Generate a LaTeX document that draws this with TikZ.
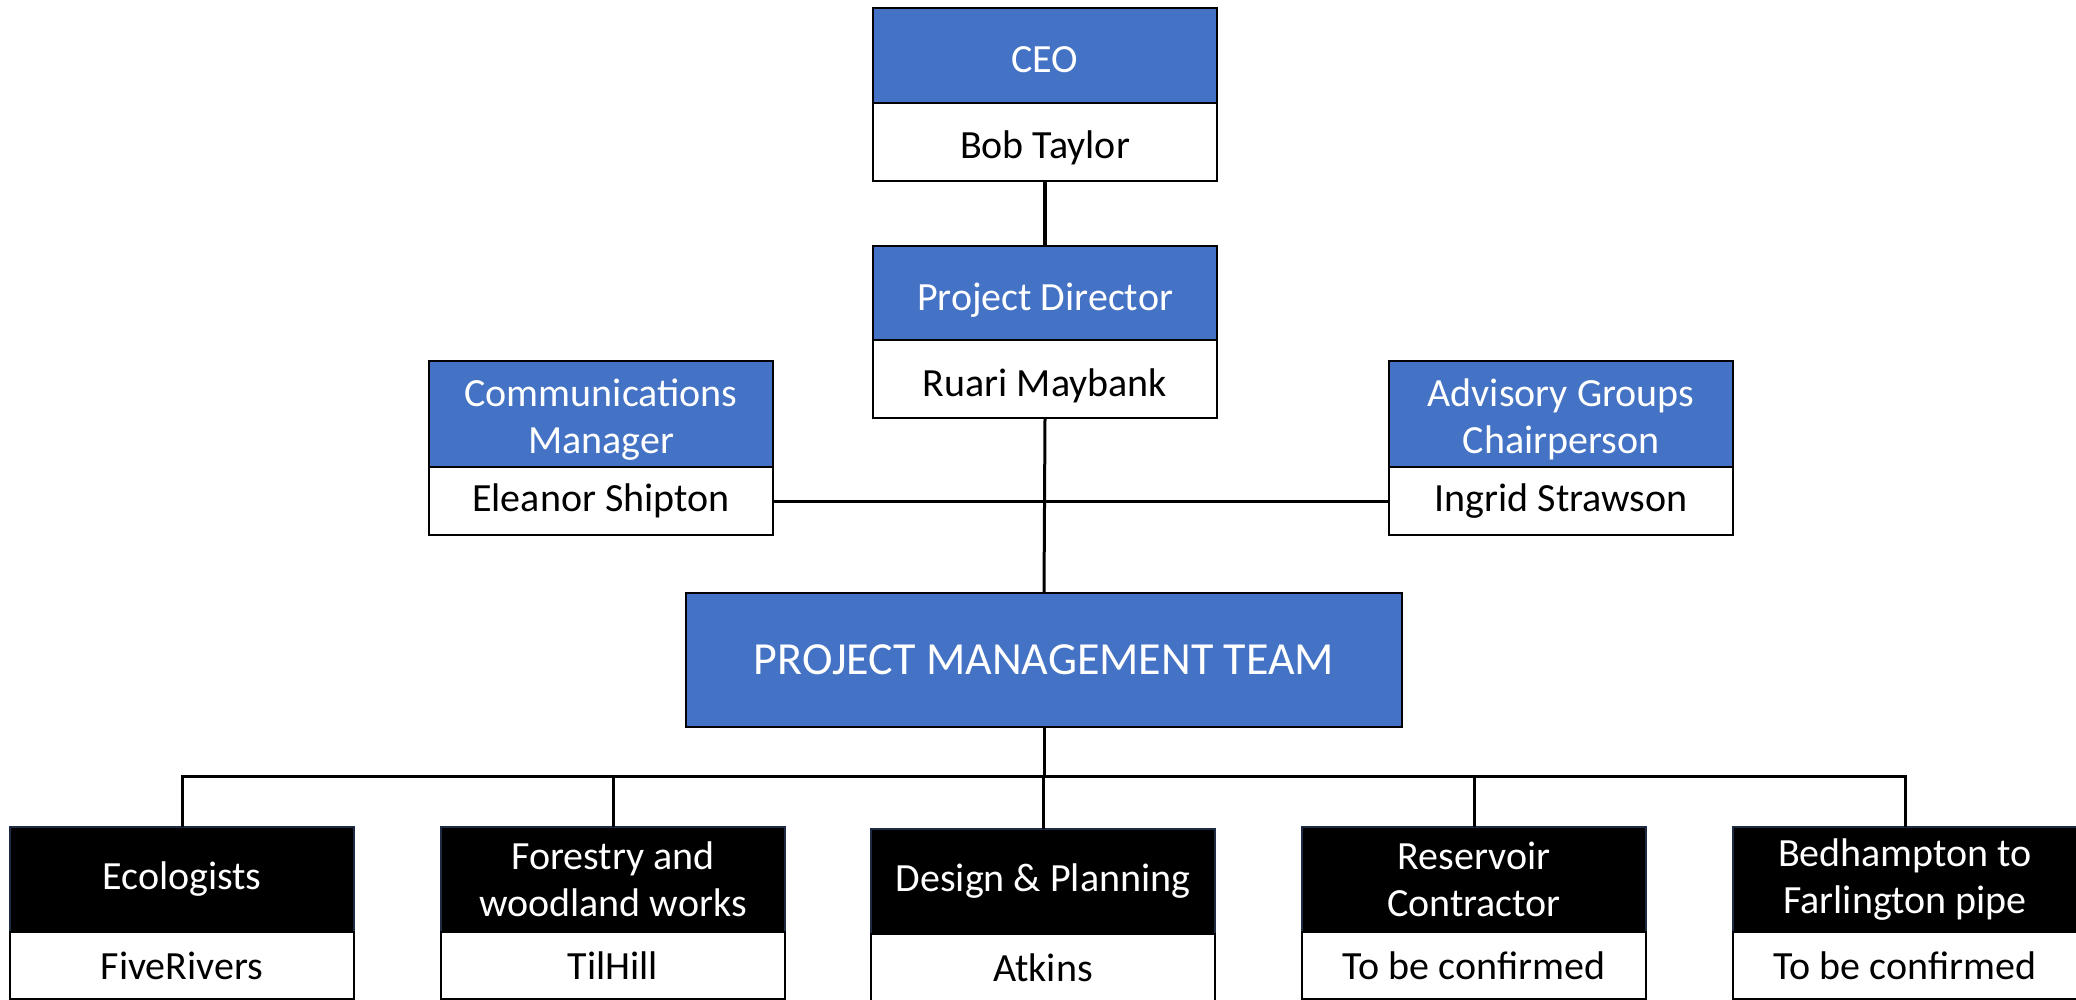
\documentclass[tikz,border=0pt]{standalone}
\usepackage{fontspec}
\setmainfont{Carlito}
\definecolor{hblue}{HTML}{4472C4}
\definecolor{hedge}{HTML}{1F2A44}
\begin{document}
\begin{tikzpicture}[x=1pt,y=-1pt,
  box/.style={draw=black, line width=2pt, inner sep=0pt, outer sep=0pt, anchor=north west, align=center, font=\fontsize{40}{47}\selectfont},
  bluebox/.style={box, fill=hblue, text=white},
  blackbox/.style={box, fill=black, text=white, draw=hedge},
  namebox/.style={box, fill=white, text=black},
  tlow/.style={text height=#1, text depth=0pt},
  conn/.style={line width=3pt}]
\useasboundingbox (0,0) rectangle (2076,1000);
\coordinate (bus) at (0,776);
% top column
\node[bluebox, tlow=34pt, minimum width=344pt, minimum height=95pt] (ceoH) at (873,8) {CEO};
\node[namebox, tlow=34pt, minimum width=344pt, minimum height=78pt] (ceoN) at (873,103) {Bob Taylor};
\node[bluebox, tlow=34pt, minimum width=344pt, minimum height=94pt] (pdH) at (873,246) {Project Director};
\node[namebox, tlow=34pt, minimum width=344pt, minimum height=78pt] (pdN) at (873,340) {Ruari Maybank};
% side boxes
\node[bluebox, tlow=78pt, minimum width=344pt, minimum height=106pt] (cmH) at (429,361) {Communications\\Manager};
\node[namebox, minimum width=344pt, minimum height=68pt] (cmN) at (429,467) {Eleanor Shipton};
\node[bluebox, tlow=78pt, minimum width=344pt, minimum height=106pt] (agH) at (1389,361) {Advisory Groups\\Chairperson};
\node[namebox, minimum width=344pt, minimum height=68pt] (agN) at (1389,467) {Ingrid Strawson};
% PMT
\node[bluebox, minimum width=716pt, minimum height=134pt, font=\fontsize{46}{54}\selectfont] (pmt) at (686,593) {PROJECT MANAGEMENT TEAM};
% bottom row
\node[blackbox, minimum width=344pt, minimum height=105pt] (ecoH) at (10,827) {Ecologists};
\node[namebox, minimum width=344pt, minimum height=67pt] (ecoN) at (10,932) {FiveRivers};
\node[blackbox, minimum width=344pt, minimum height=105pt] (forH) at (441,827) {Forestry and\\woodland works};
\node[namebox, minimum width=344pt, minimum height=67pt] (forN) at (441,932) {TilHill};
\node[blackbox, minimum width=344pt, minimum height=105pt] (desH) at (871,829) {Design \& Planning};
\node[namebox, minimum width=344pt, minimum height=67pt] (desN) at (871,934) {Atkins};
\node[blackbox, minimum width=344pt, minimum height=105pt] (resH) at (1302,827) {Reservoir\\Contractor};
\node[namebox, minimum width=344pt, minimum height=67pt] (resN) at (1302,932) {To be confirmed};
\node[blackbox, minimum width=344pt, minimum height=105pt] (bedH) at (1733,827) {Bedhampton to\\Farlington pipe};
\node[namebox, minimum width=344pt, minimum height=67pt] (bedN) at (1733,932) {To be confirmed};
% connectors
\draw[conn, line width=4pt] (ceoN.south) -- (pdH.north);
\draw[conn] (pdN.south) -- (pmt.north);
\draw[conn] (cmN.east) -- (agN.west);
\draw[conn] (pmt.south) -- (pmt.south |- bus);
\draw[conn] (ecoH.north) -- (ecoH.north |- bus) -- (bedH.north |- bus) -- (bedH.north);
\draw[conn] (forH.north) -- (forH.north |- bus);
\draw[conn] (desH.north) -- (desH.north |- bus);
\draw[conn] (resH.north) -- (resH.north |- bus);
\end{tikzpicture}
\end{document}
